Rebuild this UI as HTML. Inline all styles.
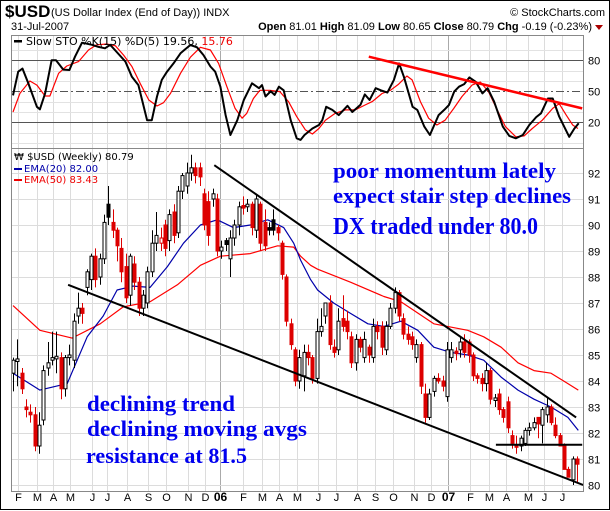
<!DOCTYPE html>
<html><head><meta charset="utf-8"><style>
html,body{margin:0;padding:0;background:#fff}
svg{display:block;font-family:"Liberation Sans",sans-serif}
</style></head><body>
<svg id="chart" width="610" height="511" viewBox="0 0 610 511" xmlns="http://www.w3.org/2000/svg">
<rect x="0.5" y="0.5" width="609" height="509" fill="#fff" stroke="#000"/>
<g>
<text x="5" y="17" font-size="17" font-weight="bold">$USD</text>
<text x="51" y="16" font-size="11">(US Dollar Index (End of Day))  INDX</text>
<text x="605" y="16" font-size="11" text-anchor="end">© StockCharts.com</text>
<text x="11" y="30" font-size="11">31-Jul-2007</text>
<text x="592" y="30" font-size="11" text-anchor="end"><tspan font-weight="bold">Open</tspan> 81.01 <tspan font-weight="bold">High</tspan> 81.09 <tspan font-weight="bold">Low</tspan> 80.65 <tspan font-weight="bold">Close</tspan> 80.79 <tspan font-weight="bold">Chg</tspan> -0.19 (-0.23%)</text>
<path d="M595,25 L603,25 L599,30 Z" fill="#a00"/>
</g>
<g id="stoGrid"></g><g id="priceGrid"></g>
<rect x="11.5" y="35.5" width="572" height="113" fill="none" stroke="#888"/>
<rect x="11.5" y="148.5" width="572" height="343" fill="none" stroke="#888"/>
<defs>
<clipPath id="stoClip"><rect x="12" y="36" width="571" height="112"/></clipPath>
<clipPath id="prClip"><rect x="12" y="149" width="571" height="342"/></clipPath>
</defs>
<g id="stoMarks" clip-path="url(#stoClip)"></g>
<g id="priceMarks" clip-path="url(#prClip)"></g>
<g id="axes"></g>
<g>
<rect x="14" y="40" width="8" height="2.5" fill="#000"/>
<text x="26" y="45" font-size="11" font-family="DejaVu Sans, sans-serif">Slow STO %K(15) %D(5) 19.56, <tspan fill="#e00">15.76</tspan></text>
</g>
<g font-size="10" font-family="DejaVu Sans, sans-serif">
<text x="14" y="160">₩ $USD (Weekly) 80.79</text>
<rect x="14" y="168" width="8" height="2" fill="#00a"/>
<text x="24" y="172" fill="#00a">EMA(20) 82.00</text>
<rect x="14" y="179" width="8" height="2" fill="#e00"/>
<text x="24" y="183" fill="#e00">EMA(50) 83.43</text>
</g>
<g font-family="Liberation Serif, serif" font-weight="bold" font-size="22" fill="#0000ee">
<text x="333" y="178" textLength="223" lengthAdjust="spacingAndGlyphs">poor momentum lately</text>
<text x="333" y="203" textLength="238" lengthAdjust="spacingAndGlyphs">expect stair step declines</text>
<text x="333" y="234" font-size="24" textLength="205" lengthAdjust="spacingAndGlyphs">DX traded under 80.0</text>
<text x="87" y="411" textLength="148" lengthAdjust="spacingAndGlyphs">declining trend</text>
<text x="87" y="436" textLength="220" lengthAdjust="spacingAndGlyphs">declining moving avgs</text>
<text x="86" y="463" textLength="161" lengthAdjust="spacingAndGlyphs">resistance at 81.5</text>
</g>
</svg>
<script>
const opens=[84.3,84.75,84.3,83.0,82.8,82.7,81.5,82.5,84.5,84.8,84.85,84.9,83.7,84.9,84.8,86.5,86.8,87.6,87.9,88.8,88.0,88.7,90.8,90.1,89.8,89.1,88.4,87.3,88.5,87.8,86.8,87.0,88.2,89.3,89.3,90.0,89.4,90.5,89.7,91.3,91.5,92.0,92.2,92.2,91.2,90.9,91.0,91.0,89.0,89.4,88.7,89.5,90.0,90.75,90.7,90.8,89.8,90.8,90.1,89.9,90.2,89.9,89.3,88.0,86.2,85.2,84.0,84.2,85.1,84.9,84.1,85.9,86.5,87.0,85.3,85.2,86.4,86.3,85.7,84.7,85.6,84.9,85.3,84.9,86.1,86.1,85.2,86.1,86.8,87.4,86.4,85.8,85.7,84.9,85.4,83.5,82.6,83.6,84.1,84.0,83.4,84.9,85.15,85.2,85.5,85.5,85.0,84.2,84.1,83.9,84.4,83.25,83.5,82.9,83.2,81.9,81.55,81.5,81.6,82.1,82.2,82.6,82.3,82.7,83.0,82.3,81.9,81.5,80.6,80.2,81.0];
const closes=[84.8,84.85,83.7,82.9,82.7,81.5,82.3,84.4,84.7,84.9,84.95,83.7,84.9,85.0,86.3,86.8,86.6,88.2,88.8,87.9,88.7,90.1,90.3,89.8,89.2,88.2,87.2,88.8,87.8,86.8,87.3,88.2,89.3,89.6,89.5,89.1,90.4,89.6,91.3,91.9,92.0,92.2,91.9,91.85,90.0,89.6,91.2,89.0,89.15,89.25,89.5,90.0,90.7,90.65,90.8,89.9,91.0,89.3,89.2,89.8,89.8,89.7,88.1,86.3,85.4,84.0,84.9,85.1,84.9,84.1,85.9,86.1,87.0,85.4,85.1,86.3,86.1,85.9,84.7,85.6,85.3,85.6,85.0,86.1,85.9,85.3,86.1,86.8,87.4,86.5,85.8,85.6,85.4,85.4,83.8,82.6,83.5,84.1,84.0,83.8,85.2,85.2,85.05,85.5,85.1,85.0,84.2,84.1,83.9,84.4,83.3,83.35,82.9,82.6,82.2,81.6,81.45,81.8,82.1,82.2,82.4,82.35,82.9,83.0,82.4,81.9,81.5,80.6,80.3,81.0,80.8];
const highs=[84.9,85.6,84.5,83.3,83.1,83.0,82.8,84.6,85.5,85.9,85.9,85.1,85.0,85.4,86.6,87.4,87.0,88.3,88.9,89.1,88.9,90.4,91.5,90.6,89.9,89.5,88.9,88.9,88.8,88.0,87.5,88.4,89.8,90.5,89.9,90.2,90.6,90.8,91.5,92.0,92.4,92.7,92.4,92.4,91.4,91.3,91.4,91.2,89.4,89.5,89.8,90.2,90.9,91.1,91.0,90.9,91.2,90.9,90.6,90.1,90.6,90.0,89.4,88.1,86.4,85.3,85.2,85.4,85.4,85.0,86.4,86.8,87.0,87.3,85.6,86.8,87.3,86.7,85.9,85.8,85.7,85.9,85.4,86.4,86.3,86.3,86.3,87.0,87.6,87.5,86.6,86.1,85.9,85.6,85.5,83.9,83.7,84.2,84.3,84.2,85.5,85.5,85.3,85.7,85.8,85.6,85.1,84.3,84.3,84.7,84.5,83.5,83.7,83.0,83.4,82.1,81.9,81.9,82.2,82.4,82.6,82.6,83.0,83.4,83.1,82.6,82.0,81.6,80.7,81.1,81.1];
const lows=[83.6,83.8,83.5,82.6,82.4,81.3,81.2,82.3,84.2,84.6,84.3,83.3,83.4,84.6,84.5,86.2,86.2,87.3,87.5,87.6,87.7,88.5,90.0,89.5,88.6,87.8,87.0,86.9,87.5,86.5,86.5,86.8,88.0,89.0,89.0,88.8,89.0,89.3,89.5,91.0,91.2,91.7,91.6,91.5,89.8,89.2,90.7,88.8,88.7,89.0,88.0,89.2,89.6,90.4,90.5,89.6,89.5,89.0,89.0,89.6,89.6,89.4,87.9,86.1,85.2,83.8,83.7,83.6,84.6,83.9,83.9,85.7,86.2,85.2,84.9,85.0,85.9,85.6,84.5,84.4,85.1,84.7,84.7,84.7,85.6,85.0,85.0,86.0,86.6,86.3,85.6,85.4,85.2,84.7,83.5,82.4,82.5,83.4,83.9,83.6,83.2,84.7,84.8,84.9,84.9,84.7,84.0,83.9,83.6,83.6,83.1,83.0,82.7,82.4,82.0,81.4,81.2,81.3,81.5,81.9,82.1,81.8,81.6,82.4,82.3,81.8,81.6,81.2,80.3,80.0,80.1,80.6];
const ema20Week=[0,6.2,12.5,17.1,20.8,24,27.7,31.6,35.6,39.3,43.2,47.1,50.8,54.7,58.7,62.4,64.7,66.3,68.6,70.2,73.9,77.8,81.8,85.5,89.4,93.3,97,100.9,104.8,108.5,112.5,116.4,120.1,124,127.9,130.3];
const ema20Val=[84.3,83.65,83.9,85.7,86.5,87.5,87.65,87.6,88.4,89.3,90.0,90.2,89.9,90.0,90.2,89.9,89.3,88.65,87.9,87.5,87.0,86.6,86.2,86.1,86.3,85.95,85.3,85.1,85.0,84.8,84.15,83.65,83.3,83.0,82.6,82.1];
const ema50Week=[0,6.2,13.6,20.1,25.4,31.6,37.9,43.2,47.8,54.7,61,64.7,66.3,68.6,70.2,77.8,85.5,89.4,97,104.8,108.5,112.5,116.4,120.1,124,127.9,130.3];
const ema50Val=[86.9,85.95,85.65,86.2,86.85,87.05,87.7,88.45,88.8,88.9,89.2,89.15,88.8,88.45,88.3,87.8,87.25,87.05,86.2,85.95,85.7,85.3,84.7,84.4,84.3,83.9,83.65];
const stoKWeek=[0,1.2,2.2,3.5,5.5,6.2,7.4,8.9,9.9,11.6,13,14.3,15.9,18.2,19.7,21.2,22.4,23.9,25.9,27.4,28.9,30.9,32,33.2,34.3,35.5,37,38.6,39.7,40.9,42.4,43.9,45.5,46.6,47.8,49,50.1,51.7,53.2,55.1,56.7,57.4,58.2,59.4,60.3,61.3,62.4,64,65.4,66.3,67.2,69,70.5,71.3,72.2,73.6,75.1,77.1,78.2,80.1,81.1,82.2,83.6,84.8,86.3,87.8,89,90.1,92.1,93.2,94.8,96.1,98.1,99.4,100.5,101.7,102.8,104,105.2,106.7,108.2,109.4,110.9,112.9,114.4,115.9,117.5,119,120.6,121.7,123.3,124.4,125.9,128.2,129.4,130.4];
const stoKVal=[46,69,72,58,35,32.6,48,80,80,71,70.6,83.5,97,95,93,91.6,95,88,78.7,64,56,22,22,45,61,69,77,86.8,90.6,94.8,92.6,85,74,69,54.5,27,7.7,22,41.6,57.7,53,56,45,50,46.5,54.5,51,22,4.5,3,7.7,14,17.4,22,35,32,27,36,30,37,47,41.6,53,51,48.7,61,77,64,35,32,15.8,7.7,27,32,36.8,49.7,54.5,57,63.5,59,48,53,40,15.8,6.8,4.5,7.7,17.4,25,28.7,43,43,25.5,6,14,19];
const stoDWeek=[0,1.6,3.9,5.5,7.4,8.5,10.5,12.4,15.1,17.4,19.3,21.6,23.6,25.5,27.4,29.3,31.3,33.2,34.7,36.3,38.6,40.9,43.2,45.5,47.4,49.3,51.2,52.8,53.9,55.4,56.9,59.2,61.5,63.5,65.4,67.4,69,70.5,72,74.3,76.6,78.9,81.2,82.8,85.1,87,88.9,90.8,92,93.9,95.8,97.7,99.6,101.6,103.5,105.8,107.7,109.6,111.6,113.5,115.9,117.8,119.7,122,124.4,125.9,127.5,129,130.2];
const stoDVal=[30,48,60,56,45.5,45.5,67.4,74.5,78.7,90,95,95.8,94,85,74,57.7,41.6,35.8,39,48,67.4,83,92.6,90,77,54.5,33.5,24,28.7,43,51,51,49.7,40,25.5,12.6,8.7,14,22,28.7,32,32,36.8,40,48,51,57,64.8,61,40,24,17.4,22,33.5,45,56,59,49.7,32,15.8,6,6.8,14,22,33.5,38,27,17.4,14];
const priceTicks=[80,81,82,83,84,85,86,87,88,89,90,91,92];
const stoTicks=[20,50,80];
const monthLabels=["F","M","A","M","J","J","A","S","O","N","D","06","F","M","A","M","J","J","A","S","O","N","D","07","F","M","A","M","J","J"];
const monthWeeks=[1.2,5.5,9.2,13.2,18.2,21.7,26.3,31.2,35.3,40.4,44.3,47.8,53.1,57.5,61.2,65.4,70.4,74.4,79.4,83.4,87.5,92.4,96.3,100.2,105.3,109.7,113.6,118.7,122.4,126.6];
const trendWeeks=[[12.7,131.4],[46.4,129.8],[111.3,131.2]];
const trendPrices=[[87.7,80.0],[92.3,82.6],[81.55,81.55]];
const stoTrendWeeks=[82,131.2];
const stoTrendVals=[83.5,33.5];

const NS="http://www.w3.org/2000/svg";
const X0=13, STEP=(577-13)/130;
const xW=w=>X0+w*STEP;
const yP=p=>485-(p-80)*26;
const yS=v=>122.3-(v-20)*1.0333;
function mk(tag,attrs,parent){const e=document.createElementNS(NS,tag);for(const k in attrs)e.setAttribute(k,attrs[k]);parent.appendChild(e);return e;}
const stoGrid=document.getElementById('stoGrid'),priceGrid=document.getElementById('priceGrid');
const stoMarks=document.getElementById('stoMarks'),priceMarks=document.getElementById('priceMarks'),axes=document.getElementById('axes');

monthLabels.forEach((lab,i)=>{
  const x=Math.round(xW(monthWeeks[i]))+0.5;
  const yr=/\d/.test(lab);
  const c=yr?'#aaa':'#dcdcdc';
  let l=mk('line',{x1:x,x2:x,y1:36,y2:148,stroke:c},stoGrid);
  
  
  l=mk('line',{x1:x,x2:x,y1:149,y2:491,stroke:c},priceGrid);
  
  
  const t=mk('text',{x:x,y:501,'font-size':yr?12:11,'font-weight':yr?'bold':'normal','text-anchor':'middle'},axes);
  t.textContent=lab;
  
  
});
priceTicks.forEach(p=>{
  const y=Math.round(yP(p))+0.5;
  const l=mk('line',{x1:12,x2:583,y1:y,y2:y,stroke:'#dcdcdc'},priceGrid);
  
  
  const t=mk('text',{x:588,y:y+4,'font-size':11},axes);
  t.textContent=p;
  
  
});
[0,10,30,40,60,70,90].forEach(v=>{
  const y=Math.round(yS(v))+0.5;
  const l=mk('line',{x1:12,x2:583,y1:y,y2:y,stroke:'#e2e2e2'},stoGrid);
  
  
});
stoTicks.forEach(v=>{
  const y=Math.round(yS(v))+0.5;
  const l=mk('line',{x1:12,x2:583,y1:y,y2:y,stroke:'#555','stroke-dasharray':v===50?'8,3,2,3':'none'},stoGrid);
  
  
  const t=mk('text',{x:588,y:y+4,'font-size':11},axes);
  t.textContent=v;
  
  
});
function poly(ws,vs,yf,parent,color,width,name){
  const pts=ws.map((w,i)=>xW(w).toFixed(1)+','+yf(vs[i]).toFixed(1)).join(' ');
  const p=mk('polyline',{points:pts,fill:'none',stroke:color,'stroke-width':width,'stroke-linejoin':'round'},parent);
  
  
}
poly(stoDWeek,stoDVal,yS,stoMarks,'#f00',1.2,'sto-d-line');
poly(stoKWeek,stoKVal,yS,stoMarks,'#000',2,'sto-k-line');
poly(stoTrendWeeks,stoTrendVals,yS,stoMarks,'#f00',2.5,'sto-trendline');
poly(ema50Week,ema50Val,yP,priceMarks,'#f00',1.2,'ema50-line');
poly(ema20Week,ema20Val,yP,priceMarks,'#00a',1.2,'ema20-line');
for(let i=0;i<closes.length;i++){
  const o=opens[i],c=closes[i];
  const prev=i>0?closes[i-1]:o;
  const col=c<prev?'#d00':'#000';
  const hi=Math.max(highs[i]!==undefined?highs[i]:o,o,c),lo=Math.min(lows[i]!==undefined?lows[i]:o,o,c);
  const x=Math.round(xW(i))+0.5;
  const g=mk('g',{},priceMarks);
  
  
  mk('line',{x1:x,x2:x,y1:yP(hi),y2:yP(lo),stroke:col},g);
  const top=yP(Math.max(o,c)),bot=yP(Math.min(o,c));
  const h=Math.max(bot-top,1);
  mk('rect',{x:x-1.5,y:top,width:3,height:h,fill:c<o?col:'#fff',stroke:col,'stroke-width':1},g);
}
trendWeeks.forEach((tw,i)=>poly(tw,trendPrices[i],yP,priceMarks,'#000',2,'price-trendline'));
</script>
</body></html>
